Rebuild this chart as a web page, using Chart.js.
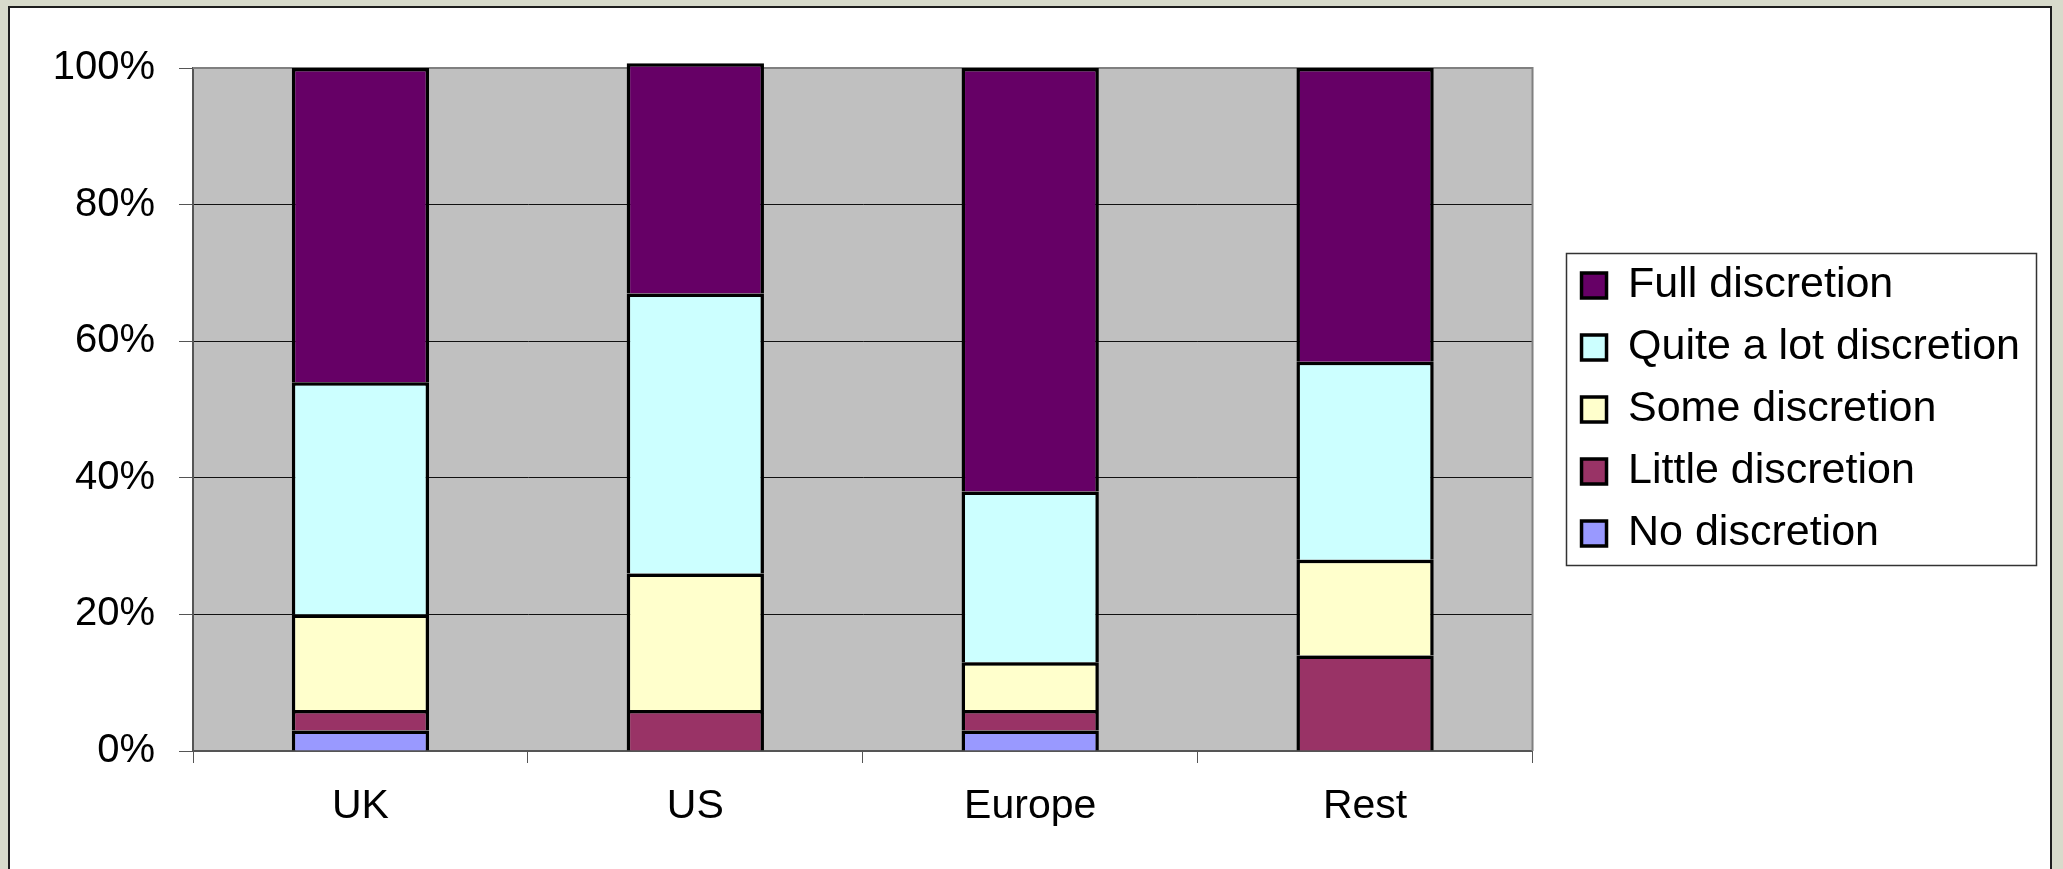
<!DOCTYPE html>
<html>
<head>
<meta charset="utf-8">
<script src="https://cdn.jsdelivr.net/npm/chart.js@4.4.1/dist/chart.umd.min.js"></script>
<style>
  html, body { margin: 0; padding: 0; overflow: hidden; background: #d8dbcb; }
  canvas { display: block; }
</style>
</head>
<body>
<canvas id="c" width="2063" height="869" style="width:2063px;height:869px"></canvas>
<script>
// ---- data ----
const categories = ['UK', 'US', 'Europe', 'Rest'];
const seriesNames = ['No discretion', 'Little discretion', 'Some discretion', 'Quite a lot discretion', 'Full discretion'];
const noDiscretion = [3, 0, 3, 0];
const littleDiscretion = [3, 6, 3, 14];
const someDiscretion = [14, 20, 7, 14];
const quiteALotDiscretion = [34, 41, 25, 29];
const fullDiscretion = [46, 33.7, 62, 43];
const yTicks = [0, 20, 40, 60, 80, 100];

const seriesValues = [noDiscretion, littleDiscretion, someDiscretion, quiteALotDiscretion, fullDiscretion];
const seriesColors = ['#9999FF', '#993366', '#FFFFCC', '#CCFFFF', '#660066'];

Chart.defaults.font.family = '"Liberation Sans", Arial, sans-serif';
Chart.defaults.color = '#000';

const LEGEND_SHIFT = 30;

const framePlugin = {
  id: 'frame',
  afterLayout(chart) {
    const lg = chart.legend;
    if (lg) {
      lg.left += LEGEND_SHIFT;
      lg.right += LEGEND_SHIFT;
    }
  },
  beforeDraw(chart) {
    const { ctx, width, height, chartArea: a } = chart;
    ctx.save();
    ctx.fillStyle = '#d8dbcb';
    ctx.fillRect(0, 0, width, height);
    ctx.fillStyle = '#ffffff';
    ctx.fillRect(8, 6, 2044, height);
    ctx.strokeStyle = '#1e1e1e';
    ctx.lineWidth = 2;
    ctx.beginPath();
    ctx.moveTo(9, height + 2);
    ctx.lineTo(9, 7);
    ctx.lineTo(2051, 7);
    ctx.lineTo(2051, height + 2);
    ctx.stroke();
    ctx.fillStyle = '#c0c0c0';
    ctx.fillRect(a.left, a.top, a.width, a.height);
    ctx.restore();
  },
  beforeDatasetsDraw(chart) {
    const { ctx, chartArea: a } = chart;
    ctx.save();
    ctx.strokeStyle = '#808080';
    ctx.lineWidth = 2;
    ctx.beginPath();
    ctx.moveTo(a.left, a.top);
    ctx.lineTo(a.right, a.top);
    ctx.lineTo(a.right, a.bottom);
    ctx.stroke();
    ctx.restore();
  },
  afterDraw(chart) {
    const lg = chart.legend;
    if (!lg || !lg.legendHitBoxes || !lg.legendHitBoxes.length) return;
    const hb = lg.legendHitBoxes;
    let l = Infinity, r = -Infinity, t = Infinity, b = -Infinity;
    hb.forEach(h => {
      l = Math.min(l, h.left); r = Math.max(r, h.left + h.width);
      t = Math.min(t, h.top); b = Math.max(b, h.top + h.height);
    });
    const { ctx } = chart;
    ctx.save();
    ctx.strokeStyle = '#333';
    ctx.lineWidth = 1.5;
    ctx.strokeRect(Math.round(l - 16) + 0.5, Math.round(t - 11) + 0.5, Math.round(r - l + 32), Math.round(b - t + 21));
    ctx.restore();
  }
};

new Chart(document.getElementById('c'), {
  type: 'bar',
  data: {
    labels: categories,
    datasets: seriesNames.map((name, i) => ({
      label: name,
      data: seriesValues[i],
      backgroundColor: seriesColors[i],
      borderColor: '#000',
      borderWidth: 3.5,
      clip: false,
      barPercentage: 0.41,
      categoryPercentage: 1.0
    }))
  },
  options: {
    responsive: false,
    animation: false,
    devicePixelRatio: 1,
    layout: { padding: { left: 8, top: 68, right: 63, bottom: 0 } },
    plugins: {
      tooltip: { enabled: false },
      legend: {
        position: 'right',
        align: 'center',
        fullSize: false,
        reverse: true,
        labels: {
          boxWidth: 25,
          boxHeight: 25,
          padding: 19,
          color: '#000',
          font: { size: 43 }
        }
      }
    },
    scales: {
      x: {
        stacked: true,
        grid: { display: true, drawOnChartArea: false, drawTicks: true, tickLength: 12, color: '#555', offset: true },
        border: { display: true, color: '#555', width: 2 },
        ticks: { font: { size: 41 }, padding: 19, color: '#000' },
        afterFit: s => { s.height = 118; }
      },
      y: {
        stacked: true,
        min: 0,
        max: 100,
        afterBuildTicks: s => { s.ticks = yTicks.map(v => ({ value: v })); },
        grid: { color: '#111', lineWidth: 1, tickLength: 14, tickColor: '#555' },
        border: { display: true, color: '#555', width: 2 },
        ticks: { font: { size: 40 }, padding: 24, color: '#000', callback: v => v + '%' },
        afterFit: s => { s.width = 185; }
      }
    }
  },
  plugins: [framePlugin]
});
</script>
</body>
</html>
